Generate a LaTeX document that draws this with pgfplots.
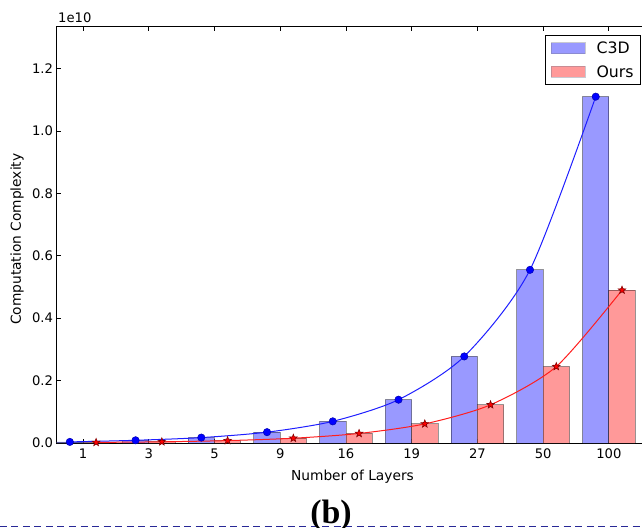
\documentclass[border=0pt]{standalone}
\usepackage{pgfplots}
\pgfplotsset{compat=1.18}
\usepackage{fontspec}
\setmainfont{DejaVu Sans}
\newfontfamily\timesfont{Liberation Serif}
\definecolor{barblue}{RGB}{153,153,255}
\definecolor{barred}{RGB}{255,153,153}
\definecolor{lineblue}{RGB}{30,30,255}
\definecolor{linered}{RGB}{255,30,30}
\definecolor{staredge}{RGB}{130,0,0}
\definecolor{navy}{RGB}{40,40,150}
\definecolor{edgegrey}{RGB}{120,120,140}
\pgfdeclareplotmark{fstar}{%
  \pgfpathmoveto{\pgfqpointpolar{90}{1.0\pgfplotmarksize}}%
  \pgfpathlineto{\pgfqpointpolar{126}{0.42\pgfplotmarksize}}%
  \pgfpathlineto{\pgfqpointpolar{162}{1.0\pgfplotmarksize}}%
  \pgfpathlineto{\pgfqpointpolar{198}{0.42\pgfplotmarksize}}%
  \pgfpathlineto{\pgfqpointpolar{234}{1.0\pgfplotmarksize}}%
  \pgfpathlineto{\pgfqpointpolar{270}{0.42\pgfplotmarksize}}%
  \pgfpathlineto{\pgfqpointpolar{306}{1.0\pgfplotmarksize}}%
  \pgfpathlineto{\pgfqpointpolar{342}{0.42\pgfplotmarksize}}%
  \pgfpathlineto{\pgfqpointpolar{18}{1.0\pgfplotmarksize}}%
  \pgfpathlineto{\pgfqpointpolar{54}{0.42\pgfplotmarksize}}%
  \pgfpathclose
  \pgfusepathqfillstroke}
\begin{document}
\begin{tikzpicture}
\useasboundingbox (-57bp,-85bp) rectangle (585bp,443bp);
\begin{axis}[
  at={(0,0)}, anchor=south west,
  scale only axis,
  width=590bp, height=416bp,
  xmin=-0.395, xmax=8.58,
  ymin=0, ymax=1.3333,
  clip=false,
  axis line style={line width=1bp, black},
  tick align=inside,
  major tick length=4.5bp,
  every tick/.style={black, line width=0.8bp},
  xtick={0,1,2,3,4,5,6,7,8},
  xticklabels={1,3,5,9,16,19,27,50,100},
  ytick={0,0.2,0.4,0.6,0.8,1.0,1.2},
  /pgf/number format/assume math mode=true,
  yticklabel style={xshift=-0.5bp, /pgf/number format/fixed, /pgf/number format/fixed zerofill, /pgf/number format/precision=1},
  ticklabel style={font=\fontsize{13.2}{15}\selectfont},
  xticklabel style={yshift=-2.5bp},
  xlabel={Number of Layers},
  ylabel={Computation Complexity},
  label style={font=\fontsize{13.8}{16}\selectfont},
  xlabel style={at={(axis description cs:0.5008,-0.0913)}, anchor=base},
  ylabel style={at={(axis description cs:-0.0678,0.49)}, anchor=center},
  legend cell align=left,
  legend style={at={(1,1)}, anchor=north east, xshift=-6bp, yshift=-8bp,
    draw=black, line width=0.8bp, font=\fontsize{15.8}{18}\selectfont,
    inner xsep=5bp, inner ysep=5bp, row sep=8bp,
    nodes={inner sep=2bp, text height=11.6bp, text depth=0bp},
    /tikz/every odd column/.append style={column sep=9bp}},
]
\addplot[ybar, bar width=0.4, bar shift=0pt, fill=barblue, draw=black, draw opacity=0.4, line width=0.8bp,
  legend image code/.code={\fill[barblue, draw=none] (0bp,-5.5bp) rectangle (34bp,5.5bp); \draw[edgegrey, fill=none, line width=0.8bp] (0bp,-5.5bp) rectangle (34bp,5.5bp);}]
  coordinates {(-0.2,0.0035) (0.8,0.0087) (1.8,0.0173) (2.8,0.0347) (3.8,0.0694) (4.8,0.1388) (5.8,0.2775) (6.8,0.555) (7.8,1.11)};
\addlegendentry{C3D}
\addplot[ybar, bar width=0.4, bar shift=0pt, fill=barred, draw=black, draw opacity=0.4, line width=0.8bp,
  legend image code/.code={\fill[barred, draw=none] (0bp,-5.5bp) rectangle (34bp,5.5bp); \draw[edgegrey, fill=none, line width=0.8bp] (0bp,-5.5bp) rectangle (34bp,5.5bp);}]
  coordinates {(0.2,0.0019) (1.2,0.0038) (2.2,0.0077) (3.2,0.0153) (4.2,0.0306) (5.2,0.0613) (6.2,0.1225) (7.2,0.245) (8.2,0.49)};
\addlegendentry{Ours}
\addplot[forget plot, smooth, tension=0.45, lineblue, line width=1bp, mark=*, mark size=3.7bp, mark options={fill=blue, draw=blue!70!black, line width=0.5bp}]
  coordinates {(-0.2,0.0035) (0.8,0.0087) (1.8,0.0173) (2.8,0.0347) (3.8,0.0694) (4.8,0.1388) (5.8,0.2775) (6.8,0.555) (7.8,1.11)};
\addplot[forget plot, smooth, tension=0.45, linered, line width=1bp, mark=fstar, mark size=4bp, mark options={fill=red, draw=staredge, line width=0.6bp}]
  coordinates {(0.2,0.0019) (1.2,0.0038) (2.2,0.0077) (3.2,0.0153) (4.2,0.0306) (5.2,0.0613) (6.2,0.1225) (7.2,0.245) (8.2,0.49)};
\node[anchor=base west, font=\fontsize{13.2}{15}\selectfont, inner sep=0pt] at ([xshift=1bp,yshift=4bp]rel axis cs:0,1) {1e10};
\end{axis}
\draw[navy, line width=1.6bp, dash pattern=on 7bp off 4.5bp] (-57bp,-83.5bp) -- (585bp,-83.5bp);
\node[anchor=base, inner sep=0pt, font=\timesfont\bfseries\fontsize{34}{36}\selectfont] at (274bp,-80bp) {(b)};
\end{tikzpicture}
\end{document}
